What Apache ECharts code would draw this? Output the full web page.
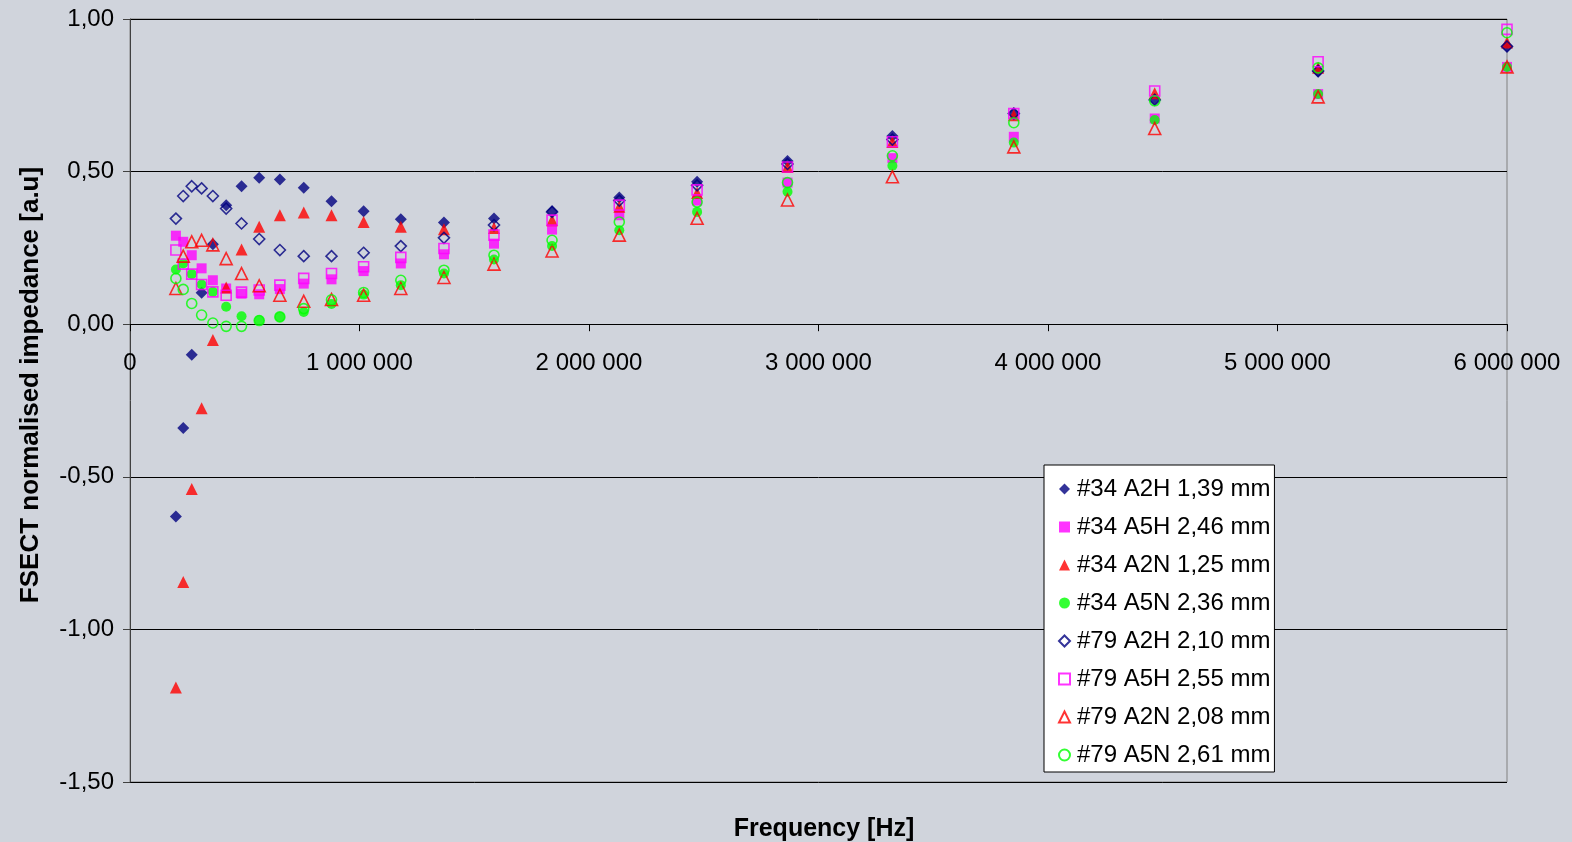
<!DOCTYPE html>
<html>
<head>
<meta charset="utf-8">
<script src="https://cdn.jsdelivr.net/npm/echarts@6/dist/echarts.min.js"></script>
<style>
html,body{margin:0;padding:0;background:#D0D4DC;}
#chart{width:1572px;height:842px;}
</style>
</head>
<body>
<div id="chart"></div>
<script>
// Frequencies [Hz]
var freqs = [200000, 232000, 269000, 312000, 361000, 419000, 486000, 563000, 653000, 757000, 878000, 1018000, 1180000, 1368000, 1586000, 1839000, 2132000, 2471000, 2865000, 3322000, 3851000, 4465000, 5177000, 6000000];

var s34A2H = [-0.63, -0.34, -0.10, 0.103, 0.262, 0.39, 0.452, 0.48, 0.474, 0.447, 0.403, 0.37, 0.344, 0.333, 0.346, 0.37, 0.415, 0.467, 0.535, 0.617, 0.69, 0.737, 0.827, 0.911];
var s34A5H = [0.29, 0.27, 0.226, 0.183, 0.144, 0.117, 0.10, 0.098, 0.115, 0.133, 0.147, 0.174, 0.199, 0.229, 0.264, 0.31, 0.357, 0.405, 0.464, 0.544, 0.614, 0.674, 0.754, 0.843];
var s34A2N = [-1.19, -0.845, -0.54, -0.275, -0.052, 0.12, 0.245, 0.319, 0.357, 0.366, 0.357, 0.335, 0.319, 0.311, 0.315, 0.341, 0.385, 0.43, 0.515, 0.597, 0.685, 0.757, 0.84, 0.923];
var s34A5N = [0.179, 0.199, 0.164, 0.13, 0.106, 0.057, 0.026, 0.013, 0.024, 0.04, 0.066, 0.097, 0.128, 0.166, 0.212, 0.256, 0.308, 0.368, 0.434, 0.519, 0.595, 0.669, 0.754, 0.843];
var s79A2H = [0.346, 0.42, 0.452, 0.445, 0.42, 0.379, 0.33, 0.279, 0.243, 0.223, 0.223, 0.234, 0.256, 0.283, 0.325, 0.368, 0.405, 0.455, 0.525, 0.605, 0.69, 0.735, 0.83, 0.91];
var s79A5H = [0.243, 0.197, 0.164, 0.13, 0.106, 0.095, 0.105, 0.112, 0.128, 0.15, 0.166, 0.188, 0.219, 0.248, 0.292, 0.341, 0.39, 0.44, 0.515, 0.598, 0.69, 0.764, 0.86, 0.966];
var s79A2N = [0.117, 0.223, 0.27, 0.275, 0.26, 0.215, 0.166, 0.126, 0.095, 0.075, 0.081, 0.095, 0.117, 0.153, 0.197, 0.24, 0.292, 0.347, 0.407, 0.483, 0.581, 0.641, 0.745, 0.843];
var s79A5N = [0.15, 0.114, 0.068, 0.03, 0.004, -0.007, -0.007, 0.012, 0.024, 0.051, 0.08, 0.104, 0.144, 0.177, 0.226, 0.275, 0.335, 0.40, 0.464, 0.552, 0.66, 0.732, 0.84, 0.955];

var seriesNames = ['#34 A2H 1,39 mm', '#34 A5H 2,46 mm', '#34 A2N 1,25 mm', '#34 A5N 2,36 mm',
                   '#79 A2H 2,10 mm', '#79 A5H 2,55 mm', '#79 A2N 2,08 mm', '#79 A5N 2,61 mm'];
var seriesValues = [s34A2H, s34A5H, s34A2N, s34A5N, s79A2H, s79A5H, s79A2N, s79A5N];
var seriesColors = ['#000080', '#FF00FF', '#FF0000', '#00FF00', '#000080', '#FF00FF', '#FF0000', '#00FF00'];
var seriesSymbols = ['diamond', 'rect', 'triangle', 'circle', 'diamond', 'rect', 'triangle', 'circle'];
var seriesSizes = [12, 10, 12, 10, 11, 10, 12, 10];
var seriesHollow = [false, false, false, false, true, true, true, true];

var FONT = '"Liberation Sans", Arial, sans-serif';
var BG = '#D0D4DC';

function pairs(vals) {
  var out = [];
  for (var i = 0; i < freqs.length; i++) {
    if (vals[i] !== null && vals[i] !== undefined) out.push([freqs[i], vals[i]]);
  }
  return out;
}

var series = seriesNames.map(function (name, i) {
  var hollow = seriesHollow[i];
  return {
    name: name,
    type: 'scatter',
    xAxisIndex: 0, yAxisIndex: 0,
    symbol: seriesSymbols[i],
    symbolSize: seriesSizes[i],
    data: pairs(seriesValues[i]),
    itemStyle: hollow
      ? { color: 'rgba(0,0,0,0)', borderColor: seriesColors[i], borderWidth: 1.6 }
      : { color: seriesColors[i], borderWidth: 0 },
    emphasis: { disabled: true },
    animation: false
  };
});

function fmtX(v) {
  return String(Math.round(v)).replace(/\B(?=(\d{3})+(?!\d))/g, ' ');
}
function fmtY(v) {
  return v.toFixed(2).replace('.', ',');
}

// main plot: top 19, bottom 842-60 = 782 ; zero line at 19 + 763*(1/2.5)
var GRID_TOP = 19, GRID_BOTTOM = 60;
var zeroY = GRID_TOP + (842 - GRID_TOP - GRID_BOTTOM) * (1 / 2.5);

var chart = echarts.init(document.getElementById('chart'), null, { renderer: 'canvas' });
chart.setOption({
  backgroundColor: BG,
  animation: false,
  title: {
    text: 'Frequency [Hz]',
    left: 819, top: 812,
    textAlign: 'center',
    textStyle: { fontFamily: FONT, fontSize: 25, fontWeight: 'bold', color: '#000' }
  },
  graphic: [{
    type: 'text',
    x: 31, y: 385,
    rotation: Math.PI / 2,
    style: {
      text: 'FSECT normalised impedance [a.u]',
      fontFamily: FONT, fontSize: 26, fontWeight: 'bold', fill: '#000',
      align: 'center', verticalAlign: 'middle'
    },
    z: 10
  }],
  grid: [{
    left: 130, right: 65, top: GRID_TOP, bottom: GRID_BOTTOM,
    show: true, borderColor: '#808080', borderWidth: 1, backgroundColor: BG
  }, {
    left: 130, right: 65, top: GRID_TOP, bottom: 842 - zeroY,
    show: false
  }],
  legend: {
    orient: 'vertical',
    left: 1044, top: 465,
    backgroundColor: '#FFFFFF',
    borderColor: '#000000', borderWidth: 1,
    padding: [11, 4, 4, 14],
    itemGap: 12,
    itemWidth: 11, itemHeight: 11,
    textStyle: { fontFamily: FONT, fontSize: 24, color: '#000', lineHeight: 26, padding: [0, 0, 0, 2] },
    selectedMode: false,
    data: seriesNames
  },
  xAxis: [{
    gridIndex: 0,
    type: 'value',
    min: 0, max: 6000000, interval: 1000000,
    axisLine: { show: false, onZero: false },
    axisTick: { show: false },
    axisLabel: { show: false },
    splitLine: { show: false }
  }, {
    gridIndex: 1,
    type: 'value',
    position: 'bottom',
    min: 0, max: 6000000, interval: 1000000,
    axisLine: { show: true, onZero: false, lineStyle: { color: '#000', width: 1 } },
    axisTick: { show: true, inside: false, length: 7, lineStyle: { color: '#000' } },
    axisLabel: { formatter: fmtX, fontFamily: FONT, fontSize: 24, color: '#000', margin: 27 },
    splitLine: { show: false }
  }],
  yAxis: [{
    gridIndex: 0,
    type: 'value',
    min: -1.5, max: 1, interval: 0.5,
    axisLine: { show: true, onZero: false, lineStyle: { color: '#404040', width: 1 } },
    axisTick: { show: true, inside: false, length: 7, lineStyle: { color: '#404040' } },
    axisLabel: { formatter: fmtY, fontFamily: FONT, fontSize: 24, color: '#000', margin: 16 },
    splitLine: { show: true, lineStyle: { color: '#000', width: 1 } }
  }, {
    gridIndex: 1,
    type: 'value',
    min: 0, max: 1,
    show: false
  }],
  series: series
});
</script>
</body>
</html>
